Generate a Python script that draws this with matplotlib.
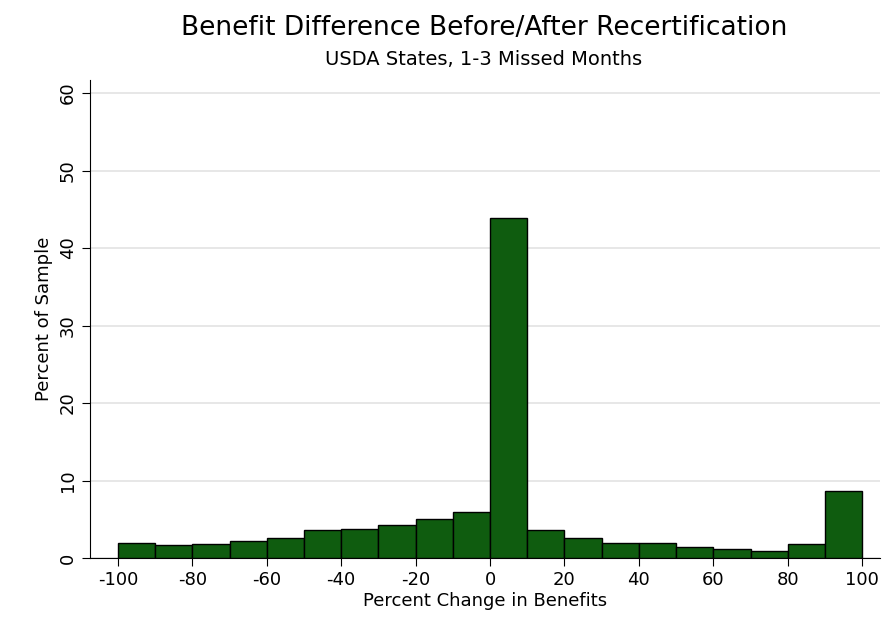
import matplotlib.pyplot as plt
import numpy as np

plt.rcParams['axes.unicode_minus'] = False

# bin left edges (percent change) and bar heights (percent of sample)
bin_left = np.arange(-100, 100, 10)
pct = [2.0, 1.7, 1.8, 2.2, 2.6, 3.6, 3.8, 4.2, 5.0, 5.9,
       43.9, 3.6, 2.6, 1.9, 1.9, 1.4, 1.2, 0.9, 1.8, 8.6]
xticks = np.arange(-100, 101, 20)
yticks = np.arange(0, 61, 10)

fig = plt.figure(figsize=(8.88, 6.23), dpi=100)
ax = fig.add_axes([90/888, 65/623, 790/888, 478/623])

ax.bar(bin_left, pct, width=10, align='edge', color='#0f5c0f',
       edgecolor='black', linewidth=1.0, zorder=3)
ax.set_xlim(-107.5, 104.8)
ax.set_ylim(0, 61.7)
ax.set_xticks(xticks)
ax.set_yticks(yticks)
ax.spines['top'].set_visible(False)
ax.spines['right'].set_visible(False)
ax.yaxis.grid(True, color='#e3e3e3', linewidth=1.2, zorder=0)
ax.tick_params(labelsize=13, length=6)
for lab in ax.get_yticklabels():
    lab.set_rotation(90)
    lab.set_va('center')
ax.set_xlabel('Percent Change in Benefits', fontsize=13, labelpad=2)
ax.set_ylabel('Percent of Sample', fontsize=13)

fig.text(0.545, 0.955, 'Benefit Difference Before/After Recertification',
         ha='center', va='center', fontsize=19)
fig.text(0.545, 0.905, 'USDA States, 1-3 Missed Months',
         ha='center', va='center', fontsize=14)

plt.savefig('out.png')
